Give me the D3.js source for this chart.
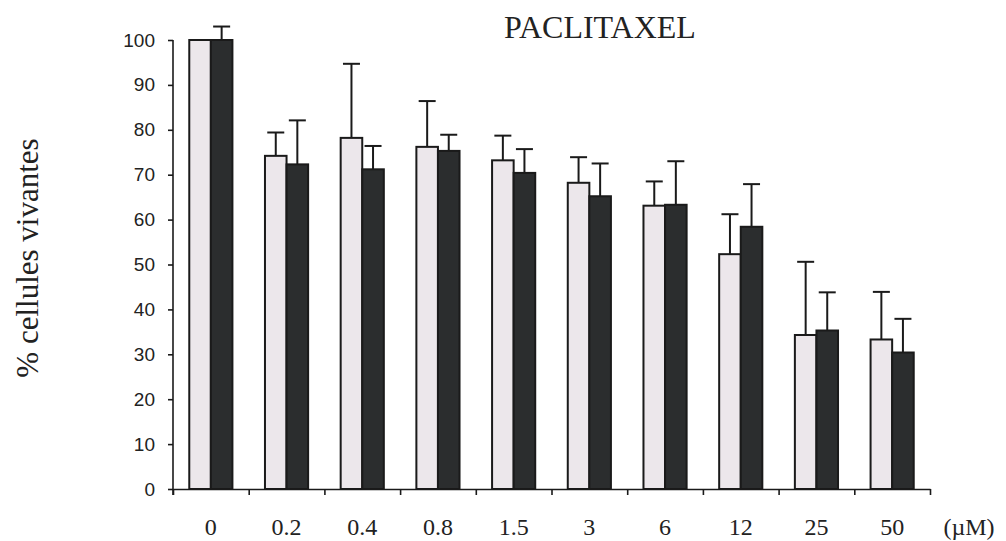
<!DOCTYPE html>
<html>
<head>
<meta charset="utf-8">
<script src="https://cdn.jsdelivr.net/npm/d3@7"></script>
<style>
  html, body { margin: 0; padding: 0; background: #fff; }
  svg { display: block; }
</style>
</head>
<body>
<svg id="chart" width="1006" height="541"></svg>
<script>
const categories = ["0", "0.2", "0.4", "0.8", "1.5", "3", "6", "12", "25", "50"];
const seriesNames = ["A", "B"];
const lightValues = [100, 74.2, 78.2, 76.2, 73.2, 68.2, 63.1, 52.3, 34.3, 33.3];
const lightErr    = [0, 5.2, 16.5, 10.2, 5.5, 5.7, 5.4, 8.9, 16.3, 10.6];
const darkValues  = [100, 72.3, 71.2, 75.3, 70.4, 65.2, 63.3, 58.4, 35.3, 30.4];
const darkErr     = [3.0, 9.8, 5.2, 3.6, 5.3, 7.3, 9.7, 9.5, 8.5, 7.5];
const yTicks = [0, 10, 20, 30, 40, 50, 60, 70, 80, 90, 100];
const title = "PACLITAXEL";
const yLabel = "% cellules vivantes";
const unitLabel = "(\u00b5M)";

const svg = d3.select("#chart");
const mLeft = 173, mRight = 930, mTop = 40, mBottom = 489;

const x0 = d3.scaleBand().domain(categories).range([mLeft, mRight]).padding(0);
const bw = x0.bandwidth();
const x1 = d3.scaleBand().domain(seriesNames).range([bw * 0.215, bw * 0.785]).padding(0);
const y = d3.scaleLinear().domain([0, 100]).range([mBottom, mTop]);

const fills = { A: "#ece7eb", B: "#2b2d2e" };

const rows = categories.map((c, i) => ({
  cat: c,
  bars: [
    { s: "A", v: lightValues[i], e: lightErr[i] },
    { s: "B", v: darkValues[i], e: darkErr[i] }
  ]
}));

const g = svg.append("g");
const grp = g.selectAll("g.cat").data(rows).join("g")
  .attr("class", "cat")
  .attr("transform", d => `translate(${x0(d.cat)},0)`);

grp.selectAll("g.err").data(d => d.bars.filter(b => b.e > 0)).join("g")
  .attr("class", "err")
  .each(function(b) {
    const cx = x1(b.s) + x1.bandwidth() / 2;
    const sel = d3.select(this);
    sel.append("line")
      .attr("x1", cx).attr("x2", cx)
      .attr("y1", y(b.v)).attr("y2", y(b.v + b.e))
      .attr("stroke", "#1a1a1a").attr("stroke-width", 2);
    sel.append("line")
      .attr("x1", cx - 8.5).attr("x2", cx + 8.5)
      .attr("y1", y(b.v + b.e)).attr("y2", y(b.v + b.e))
      .attr("stroke", "#1a1a1a").attr("stroke-width", 2);
  });

grp.selectAll("rect").data(d => d.bars).join("rect")
  .attr("x", b => x1(b.s))
  .attr("width", x1.bandwidth())
  .attr("y", b => y(b.v))
  .attr("height", b => y(0) - y(b.v))
  .attr("fill", b => fills[b.s])
  .attr("stroke", "#1a1a1a")
  .attr("stroke-width", 2);

// y axis
const yAxis = svg.append("g")
  .attr("transform", `translate(${mLeft},0)`)
  .call(d3.axisLeft(y).tickValues(yTicks).tickSize(5).tickSizeOuter(0).tickPadding(13));
yAxis.select(".domain").attr("stroke", "#1a1a1a").attr("stroke-width", 1.6)
  .attr("d", `M0,${mBottom + 6}V${mTop}`);
yAxis.selectAll(".tick line").attr("stroke", "#1a1a1a").attr("stroke-width", 1.6);
yAxis.selectAll(".tick text")
  .attr("font-family", "'Liberation Sans', Arial, sans-serif")
  .attr("font-size", 19).attr("fill", "#222");

// x axis: boundary ticks
const xIdx = d3.scaleLinear().domain([0, categories.length]).range([mLeft, mRight]);
const xAxis = svg.append("g")
  .attr("transform", `translate(0,${mBottom})`)
  .call(d3.axisBottom(xIdx).tickValues(d3.range(0, categories.length + 1)).tickSize(6).tickSizeOuter(0).tickFormat(""));
xAxis.select(".domain").attr("stroke", "#1a1a1a").attr("stroke-width", 1.6);
xAxis.selectAll(".tick line").attr("stroke", "#1a1a1a").attr("stroke-width", 1.6);

// x labels
const xLab = svg.append("g")
  .attr("transform", `translate(0,${mBottom})`)
  .call(d3.axisBottom(x0).tickSize(0).tickPadding(29));
xLab.select(".domain").remove();
xLab.selectAll(".tick text")
  .attr("font-family", "'Liberation Serif', 'Times New Roman', serif")
  .attr("font-size", 24).attr("fill", "#222");

svg.append("text")
  .attr("x", 969).attr("y", 535)
  .attr("text-anchor", "middle")
  .attr("font-family", "'Liberation Serif', 'Times New Roman', serif")
  .attr("font-size", 24).attr("fill", "#222")
  .text(unitLabel);

svg.append("text")
  .attr("x", 600).attr("y", 38)
  .attr("text-anchor", "middle")
  .attr("font-family", "'Liberation Serif', 'Times New Roman', serif")
  .attr("font-size", 32).attr("fill", "#222")
  .text(title);

svg.append("text")
  .attr("transform", "translate(38,258) rotate(-90)")
  .attr("text-anchor", "middle")
  .attr("font-family", "'Liberation Serif', 'Times New Roman', serif")
  .attr("font-size", 31).attr("fill", "#222")
  .text(yLabel);
</script>
</body>
</html>
